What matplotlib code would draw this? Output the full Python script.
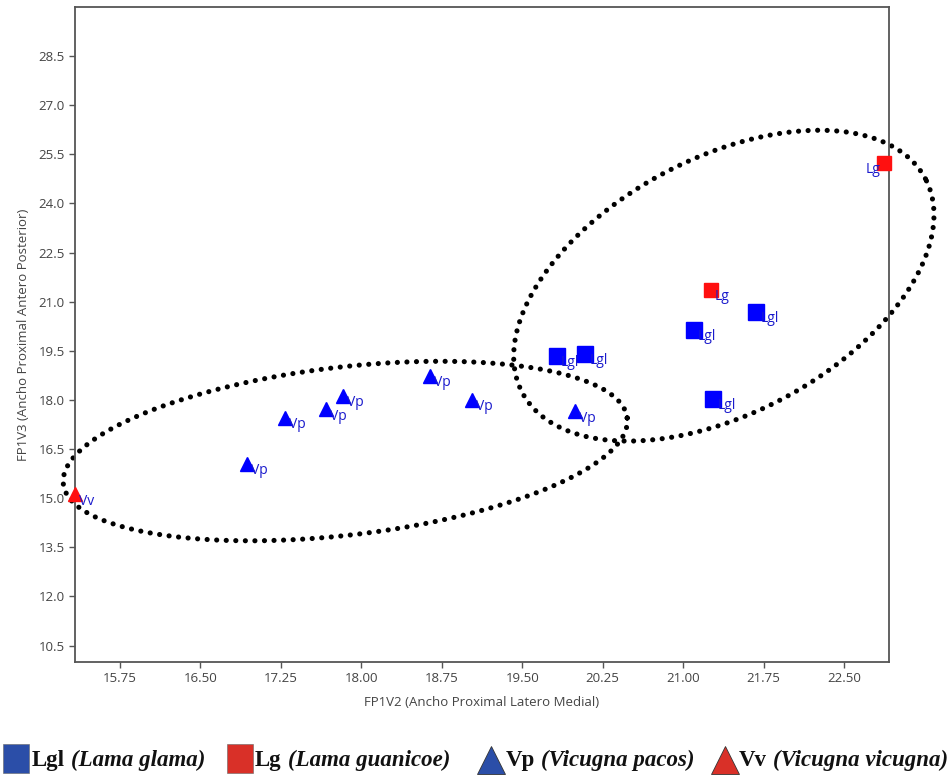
import numpy as np
import matplotlib as mpl
import matplotlib.pyplot as plt
from matplotlib.lines import Line2D
from matplotlib.patches import Rectangle

# Dados (FP1V2 x FP1V3)
lgl_x = [19.82, 20.09, 21.10, 21.68, 21.28]
lgl_y = [19.35, 19.41, 20.14, 20.69, 18.03]

lg_x = [21.26, 22.87]
lg_y = [21.37, 25.25]

vp_x = [16.93, 17.29, 17.67, 17.83, 18.64, 19.03, 19.99]
vp_y = [16.05, 17.45, 17.72, 18.12, 18.73, 18.00, 17.66]

vv_x = [15.33]
vv_y = [15.12]

x_ticks = [15.75, 16.50, 17.25, 18.00, 18.75, 19.50, 20.25, 21.00, 21.75, 22.50]
y_ticks = [10.5, 12.0, 13.5, 15.0, 16.5, 18.0, 19.5, 21.0, 22.5, 24.0, 25.5, 27.0, 28.5]

# elipses: centro e dois semi-diametros conjugados (unidades dos dados)
elipse1 = dict(c=(17.85, 16.44), u=(2.629, 1.010), v=(-0.091, 2.548))
elipse2 = dict(c=(21.38, 21.49), u=(1.880, 3.263), v=(-0.553, 3.446))

leg_codes = ['Lgl', 'Lg', 'Vp', 'Vv']
leg_names = ['(Lama glama)', '(Lama guanicoe)', '(Vicugna pacos)', '(Vicugna vicugna)']

fig = plt.figure(figsize=(9.52, 7.76), dpi=100)
ax = fig.add_axes([0.0788, 0.147, 0.855, 0.844])

cinza = '#555555'
azul = '#0000ff'
vermelho = '#ff1010'

# pontos
ax.plot(lgl_x, lgl_y, 's', color=azul, ms=11.5, ls='none', zorder=3, clip_on=False)
ax.plot(lg_x, lg_y, 's', color=vermelho, ms=10, ls='none', zorder=3, clip_on=False)
ax.plot(vp_x, vp_y, '^', color=azul, ms=10, ls='none', zorder=3, clip_on=False)
ax.plot(vv_x, vv_y, '^', color=vermelho, ms=10, ls='none', zorder=3, clip_on=False)

# rotulos dos pontos
def rotula(xs, ys, txt, dx=3, ha='left'):
    for x, y in zip(xs, ys):
        ax.annotate(txt, (x, y), xytext=(dx, -5), textcoords='offset points',
                    ha=ha, va='center', color='#1a1acc', fontsize=10,
                    family='Open Sans', zorder=4, annotation_clip=False)

rotula(lgl_x, lgl_y, 'Lgl')
rotula(lg_x[:1], lg_y[:1], 'Lg')
rotula(lg_x[1:], lg_y[1:], 'Lg', dx=-2, ha='right')
rotula(vp_x, vp_y, 'Vp')
rotula(vv_x, vv_y, 'Vv')

# elipses pontilhadas
t = np.linspace(0, 2 * np.pi, 400)
for e in [elipse1, elipse2]:
    ex = e['c'][0] + e['u'][0] * np.cos(t) + e['v'][0] * np.sin(t)
    ey = e['c'][1] + e['u'][1] * np.cos(t) + e['v'][1] * np.sin(t)
    ax.plot(ex, ey, color='black', lw=3.7, ls=(0, (0.01, 1.85)),
            dash_capstyle='round', clip_on=False, zorder=2)

ax.set_xlim(15.33, 22.92)
ax.set_ylim(10.0, 30.0)
ax.set_xticks(x_ticks)
ax.set_xticklabels(['%.2f' % v for v in x_ticks])
ax.set_yticks(y_ticks)
ax.set_yticklabels(['%.1f' % v for v in y_ticks])

for s in ax.spines.values():
    s.set_color(cinza)
    s.set_linewidth(1.3)
ax.tick_params(direction='out', length=4, width=1, color=cinza, labelcolor='#444444',
               labelsize=9.5)
for lab in ax.get_xticklabels() + ax.get_yticklabels():
    lab.set_family('Open Sans')

ax.set_xlabel('FP1V2 (Ancho Proximal Latero Medial)', fontsize=9.5, color='#444444',
              family='Open Sans', labelpad=8)
ax.set_ylabel('FP1V3 (Ancho Proximal Antero Posterior)', fontsize=9.5, color='#444444',
              family='Open Sans', labelpad=6)

# legenda manual embaixo
W, H = 952.0, 776.0
leg_cor = ['#2b4ea8', '#d93028', '#2b4ea8', '#d93028']
leg_mk = ['s', 's', '^', '^']
leg_mx = [16, 240, 491, 725]
leg_tx = [32, 255, 506, 739]
ybase = 1 - 766 / H
rend = fig.canvas.get_renderer()
for cod, nome, cor, mk, mx, tx in zip(leg_codes, leg_names, leg_cor, leg_mk, leg_mx, leg_tx):
    if mk == 's':
        fig.add_artist(Rectangle(((mx - 13) / W, 1 - 773 / H), 26 / W, 29 / H,
                                 facecolor=cor, edgecolor='#666666', lw=0.4,
                                 transform=fig.transFigure))
    else:
        fig.add_artist(Line2D([mx / W], [1 - 760 / H], marker='^', ms=20, color=cor,
                              mec='#333333', mew=0.6, transform=fig.transFigure))
    t1 = fig.text(tx / W, ybase, cod, ha='left', va='baseline', fontsize=16.5,
                  family='Liberation Serif', fontweight='bold', color='#111111')
    bb = t1.get_window_extent(rend)
    fig.text((bb.x1 + 6) / W, ybase, nome, ha='left', va='baseline', fontsize=16.5,
             family='Liberation Serif', fontweight='bold', fontstyle='italic',
             color='#111111')

fig.savefig('out.png', dpi=100)
